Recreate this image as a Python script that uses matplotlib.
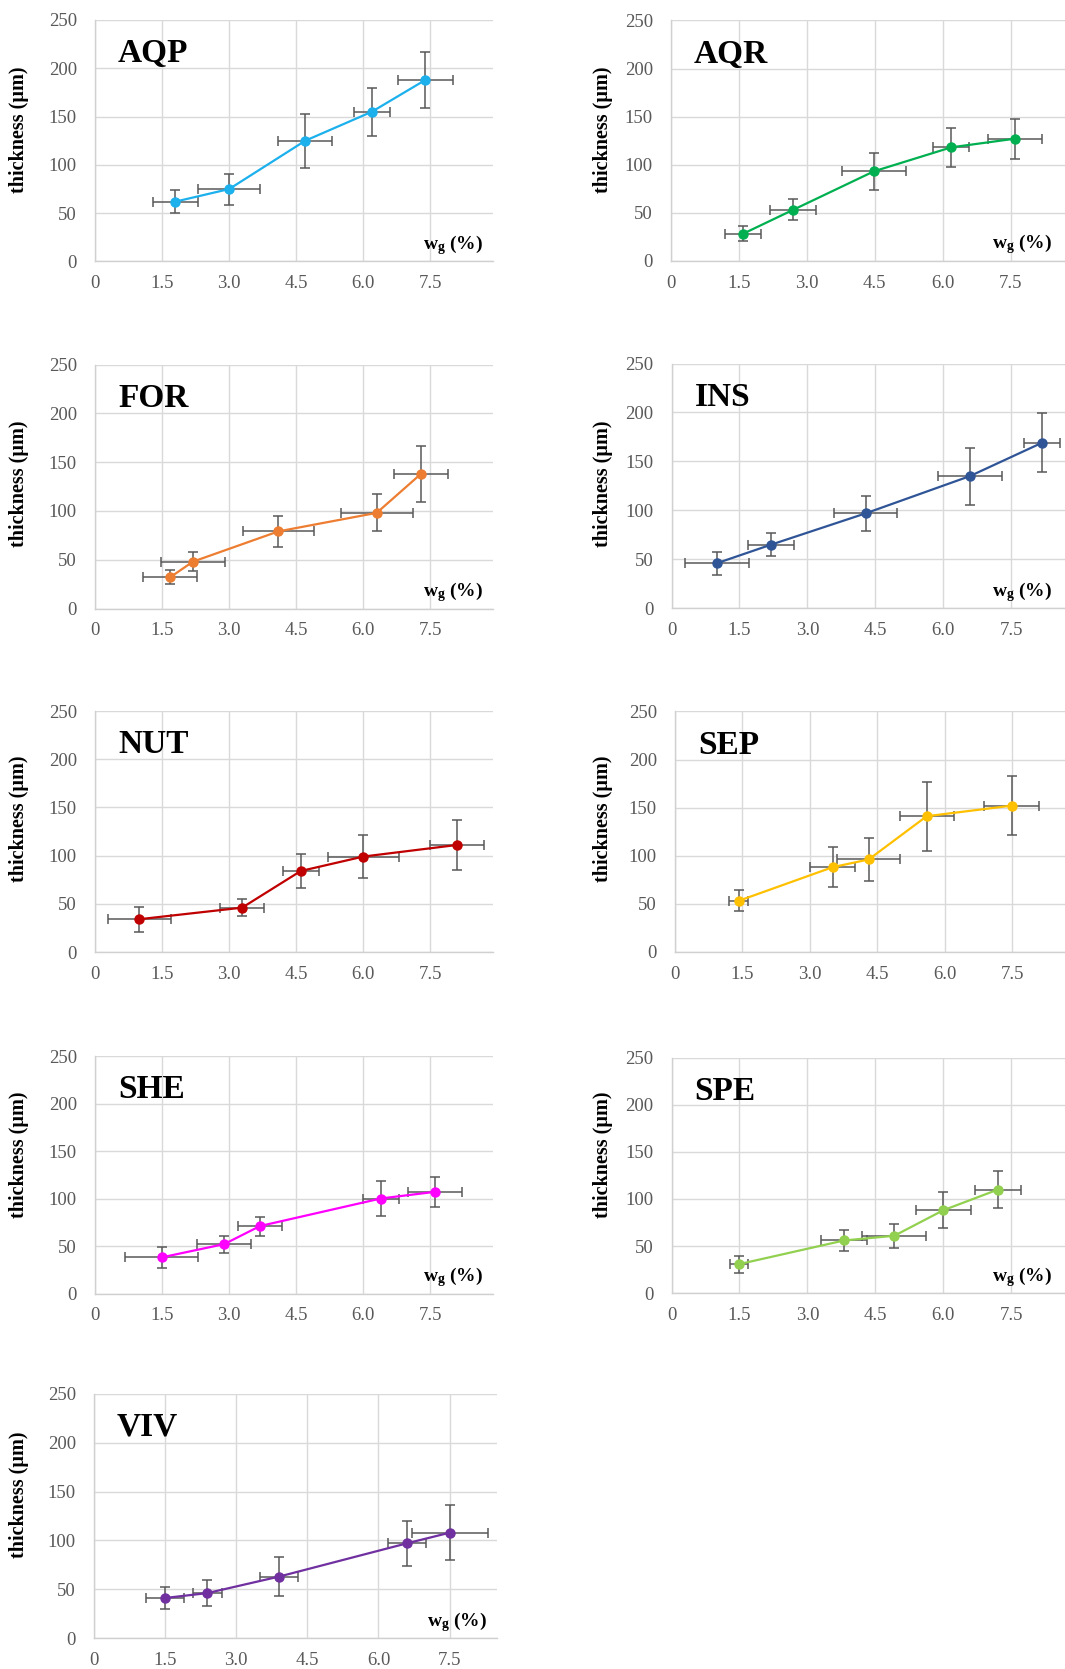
import matplotlib
matplotlib.use("Agg")
from matplotlib import pyplot as plt

plt.rcParams['font.family'] = ['Liberation Serif', 'DejaVu Serif']
plt.rcParams['mathtext.fontset'] = 'custom'
plt.rcParams['mathtext.rm'] = 'Liberation Serif'
plt.rcParams['mathtext.bf'] = 'Liberation Serif:bold'

# panel data: x = wg (%), y = thickness (um), with error half-widths
aqp_x = [1.80, 3.00, 4.70, 6.19, 7.39]
aqp_y = [62, 75, 125, 155, 188]
aqp_xerr = [0.51, 0.70, 0.61, 0.40, 0.61]
aqp_yerr = [12, 16, 28, 25, 29]

aqr_x = [1.59, 2.70, 4.48, 6.19, 7.60]
aqr_y = [28, 53, 93, 118, 127]
aqr_xerr = [0.40, 0.51, 0.70, 0.40, 0.59]
aqr_yerr = [8, 11, 19, 20, 21]

for_x = [1.68, 2.19, 4.10, 6.30, 7.29]
for_y = [32, 48, 79, 98, 138]
for_xerr = [0.61, 0.71, 0.80, 0.81, 0.61]
for_yerr = [7, 10, 16, 19, 29]

ins_x = [1.00, 2.20, 4.29, 6.59, 8.18]
ins_y = [46, 65, 97, 135, 169]
ins_xerr = [0.71, 0.50, 0.70, 0.70, 0.40]
ins_yerr = [12, 12, 18, 29, 30]

nut_x = [0.99, 3.29, 4.60, 6.00, 8.09]
nut_y = [34, 46, 84, 99, 111]
nut_xerr = [0.70, 0.49, 0.40, 0.80, 0.60]
nut_yerr = [13, 9, 18, 22, 26]

sep_x = [1.42, 3.51, 4.31, 5.60, 7.49]
sep_y = [53, 88, 96, 141, 152]
sep_xerr = [0.21, 0.50, 0.70, 0.60, 0.61]
sep_yerr = [11, 21, 22, 36, 31]

she_x = [1.49, 2.89, 3.69, 6.39, 7.60]
she_y = [38, 52, 71, 100, 107]
she_xerr = [0.81, 0.60, 0.50, 0.40, 0.60]
she_yerr = [11, 9, 10, 18, 16]

spe_x = [1.50, 3.81, 4.92, 6.00, 7.21]
spe_y = [31, 56, 61, 88, 110]
spe_xerr = [0.20, 0.50, 0.71, 0.61, 0.51]
spe_yerr = [9, 11, 13, 19, 20]

viv_x = [1.50, 2.39, 3.91, 6.60, 7.51]
viv_y = [41, 46, 63, 97, 108]
viv_xerr = [0.40, 0.30, 0.40, 0.40, 0.80]
viv_yerr = [11, 13, 20, 23, 28]

x_ticks = [0, 1.5, 3.0, 4.5, 6.0, 7.5]
x_tick_labels = ['0', '1.5', '3.0', '4.5', '6.0', '7.5']
y_ticks = [0, 50, 100, 150, 200, 250]

W, H = 1065, 1669
fig = plt.figure(figsize=(W / 100, H / 100), dpi=100)


def panel(name, x, y, xerr, yerr, color, left, top, bottom, width, xmax,
          col, label_mid, wg=True):
    ax = fig.add_axes([left / W, 1 - bottom / H, width / W, (bottom - top) / H])
    ax.errorbar(x, y, xerr=xerr, yerr=yerr, fmt='none', ecolor='#595959',
                elinewidth=1.1, capsize=3.5, capthick=1.1, zorder=2)
    ax.plot(x, y, color=color, lw=1.6, marker='o', ms=6.5, zorder=3)
    ax.set_xlim(0, xmax)
    ax.set_ylim(0, 250)
    ax.set_xticks(x_ticks)
    ax.set_xticklabels(x_tick_labels)
    ax.set_yticks(y_ticks)
    ax.grid(True, color='#d9d9d9', lw=1.0)
    ax.set_axisbelow(True)
    for s in ['top', 'right']:
        ax.spines[s].set_visible(False)
    for s in ['left', 'bottom']:
        ax.spines[s].set_color('#d0d0d0')
        ax.spines[s].set_linewidth(1.0)
    ax.tick_params(length=0, labelsize=13.5, labelcolor='#595959')
    ax.tick_params(axis='y', pad=13)
    ax.tick_params(axis='x', pad=10)
    ax.set_ylabel('thickness (µm)', fontsize=14.5, fontweight='bold')
    # label_x is the right edge of the rotated label, in pixels
    label_x = 29.5 if col == 0 else 613
    ax.yaxis.set_label_coords((label_x - left) / width,
                              (bottom - label_mid) / (bottom - top))
    ax.annotate(name, xy=(0, 1), xycoords='axes fraction', xytext=(23, -42),
                textcoords='offset pixels', fontsize=24, fontweight='bold',
                va='baseline', ha='left')
    if wg:
        dx = -10 if col == 0 else -22
        ax.annotate(r'$\mathbf{w_g}$ (%)', xy=(1, 0), xycoords='axes fraction',
                    xytext=(dx, 12), textcoords='offset pixels', fontsize=14,
                    fontweight='bold', va='baseline', ha='right')
    return ax


# left column
panel('AQP', aqp_x, aqp_y, aqp_xerr, aqp_yerr, '#1cb0ec', 95, 20, 261.5, 398, 8.9, 0, 130)
panel('FOR', for_x, for_y, for_xerr, for_yerr, '#ed7d31', 95, 364.5, 608.5, 398, 8.9, 0, 484)
panel('NUT', nut_x, nut_y, nut_xerr, nut_yerr, '#c00000', 95, 711, 952, 398, 8.9, 0, 819, wg=False)
panel('SHE', she_x, she_y, she_xerr, she_yerr, '#ff00ff', 95, 1056, 1293.5, 398, 8.9, 0, 1155)
panel('VIV', viv_x, viv_y, viv_xerr, viv_yerr, '#7030a0', 94, 1394, 1638, 403, 8.5, 0, 1495)

# right column (cut off at the right edge)
panel('AQR', aqr_x, aqr_y, aqr_xerr, aqr_yerr, '#00b050', 671, 20.5, 260.7, 403, 8.9, 1, 130)
panel('INS', ins_x, ins_y, ins_xerr, ins_yerr, '#2f5597', 671.5, 363.5, 608.3, 403, 8.9, 1, 484)
panel('SEP', sep_x, sep_y, sep_xerr, sep_yerr, '#ffc000', 675, 711.5, 951.7, 400, 8.9, 1, 819, wg=False)
panel('SPE', spe_x, spe_y, spe_xerr, spe_yerr, '#92d050', 671.5, 1057.5, 1293.3, 403, 8.9, 1, 1155)

fig.savefig('out.png', dpi=100)
